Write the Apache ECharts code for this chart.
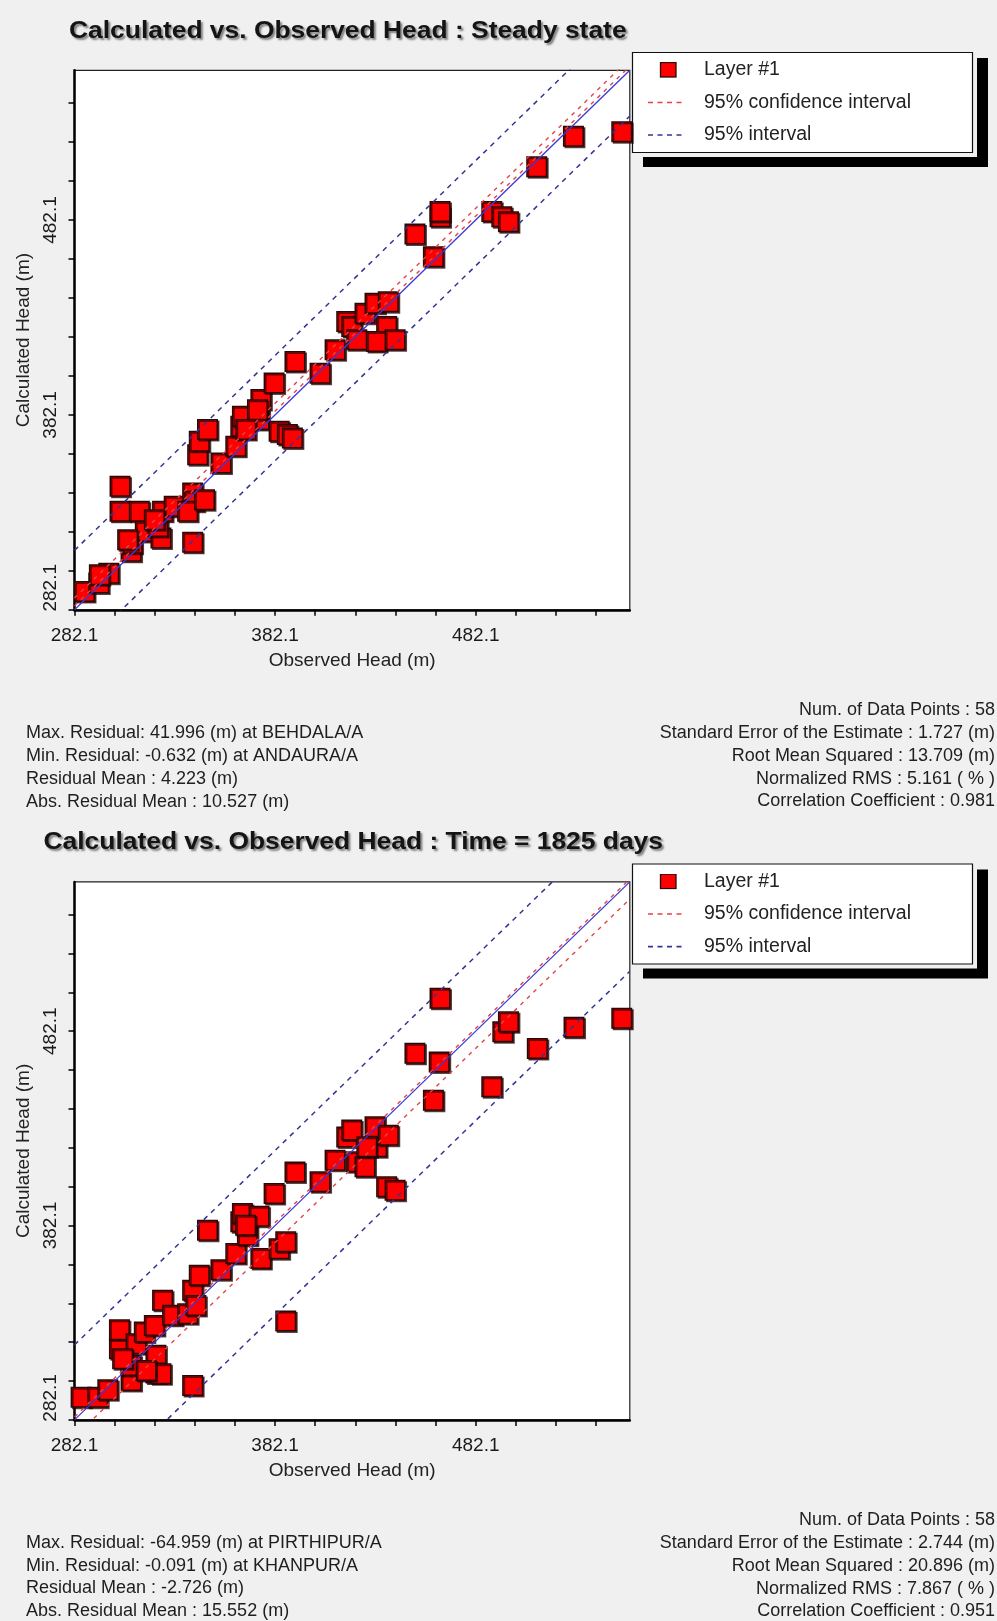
<!DOCTYPE html>
<html>
<head>
<meta charset="utf-8">
<script src="https://cdn.jsdelivr.net/npm/echarts@6/dist/echarts.min.js"></script>
<style>
  html, body { margin: 0; padding: 0; background: #f0f0f0; }
  #chart { width: 997px; height: 1621px; }
</style>
</head>
<body>
<div id="chart"></div>
<script>
// ---------- DATA ----------
const axisMin = 282.1;
const axisMax = 558.9;
const tickValues = [282.1, 302.1, 322.1, 342.1, 362.1, 382.1, 402.1, 422.1, 442.1, 462.1, 482.1, 502.1, 522.1, 542.1];
const tickLabels = [282.1, 382.1, 482.1];

const titles = [
  'Calculated vs. Observed Head : Steady state',
  'Calculated vs. Observed Head : Time = 1825 days'
];

// Steady state: [observed, calculated]
const steadyPoints = [
  [287.1, 291.5], [294.2, 295.8], [299.2, 300.9], [294.5, 300.1], [304.8, 345.5],
  [304.8, 332.6], [314.4, 332.6], [310.3, 312.1], [310.8, 316.3], [317.4, 322.3],
  [325.2, 318.9], [323.6, 324.9], [326.0, 332.6], [331.8, 335.2], [341.0, 342.0],
  [341.8, 337.8], [338.5, 332.6], [341.0, 316.7], [343.5, 361.7], [344.3, 368.6],
  [348.4, 374.6], [355.1, 357.4], [362.5, 366.0], [365.0, 376.3], [365.8, 381.4],
  [374.1, 379.7], [375.0, 390.0], [381.6, 398.5], [384.1, 373.7], [388.2, 372.0],
  [404.5, 403.5], [392.0, 409.5], [412.0, 415.5], [417.8, 430.0], [420.3, 427.4],
  [422.8, 420.6], [426.9, 434.3], [431.9, 439.4], [438.5, 440.2], [437.7, 427.4],
  [432.7, 419.7], [441.9, 420.6], [451.8, 474.9], [461.0, 463.3], [464.3, 483.8],
  [464.3, 486.4], [490.1, 486.4], [495.1, 483.8], [498.4, 481.2], [512.5, 509.4],
  [530.8, 525.1], [554.9, 527.4], [321.9, 328.3], [308.6, 318.1], [346.9, 338.6],
  [373.3, 384.8], [390.7, 370.3], [367.5, 374.6]
];

// Time = 1825 days: [observed, calculated]
const transientPoints = [
  [285.4, 293.8], [293.7, 293.8], [298.7, 297.6], [310.3, 302.4], [310.3, 310.1],
  [304.5, 318.7], [304.5, 328.5], [312.8, 321.3], [316.9, 327.3], [321.9, 330.7],
  [322.7, 315.3], [322.7, 306.2], [325.2, 305.8], [317.8, 307.5], [326.0, 343.6],
  [331.0, 335.9], [338.5, 336.7], [341.0, 348.8], [342.6, 341.0], [344.3, 356.5],
  [355.1, 359.4], [348.4, 379.7], [362.5, 367.7], [365.0, 384.0], [365.8, 388.3],
  [368.3, 377.1], [374.1, 386.9], [375.0, 365.1], [384.1, 370.2], [387.4, 373.7],
  [381.6, 398.6], [387.4, 333.0], [341.0, 299.8], [404.5, 404.6], [392.0, 409.7],
  [412.0, 415.7], [417.8, 427.7], [420.3, 431.2], [422.8, 414.9], [426.9, 412.3],
  [431.9, 432.9], [432.7, 422.6], [438.5, 428.6], [437.7, 402.0], [441.9, 400.3],
  [451.8, 470.7], [461.0, 446.6], [463.9, 466.3], [464.3, 499.0], [490.1, 453.5],
  [495.6, 481.8], [498.4, 486.9], [512.8, 473.2], [531.1, 484.1], [554.9, 488.7],
  [367.4, 382.3], [427.8, 422.6], [306.1, 313.5]
];

// Offsets (calculated - observed) of the reference lines
const lineObserved = [282.1, 558.9];
const steadyConfOffsets = [6.0, 2.0];
const steadyIntervalOffsets = [30.5, -23.5];
const transientConfOffsets = [1.5, -8.8];
const transientIntervalOffsets = [38.6, -46.0];

const legendNames = ['Layer #1', '95% confidence interval', '95% interval'];

const stats1Left = [
  'Max. Residual: 41.996 (m) at BEHDALA/A',
  'Min. Residual: -0.632 (m) at ANDAURA/A',
  'Residual Mean : 4.223 (m)',
  'Abs. Residual Mean : 10.527 (m)'
];
const stats1Right = [
  'Num. of Data Points : 58',
  'Standard Error of the Estimate : 1.727 (m)',
  'Root Mean Squared : 13.709 (m)',
  'Normalized RMS : 5.161 ( % )',
  'Correlation Coefficient : 0.981'
];
const stats2Left = [
  'Max. Residual: -64.959 (m) at PIRTHIPUR/A',
  'Min. Residual: -0.091 (m) at KHANPUR/A',
  'Residual Mean : -2.726 (m)',
  'Abs. Residual Mean : 15.552 (m)'
];
const stats2Right = [
  'Num. of Data Points : 58',
  'Standard Error of the Estimate : 2.744 (m)',
  'Root Mean Squared : 20.896 (m)',
  'Normalized RMS : 7.867 ( % )',
  'Correlation Coefficient : 0.951'
];

// ---------- STYLE / LAYOUT ----------
const FONT = '"Liberation Sans", Arial, sans-serif';
const RED = '#ff0000', RED_EDGE = '#2b0808';
const CONF_COLOR = '#e0454a', INT_COLOR = '#343494', ONE_COLOR = '#3a3ad6';
const panelShift = 811.6;
const gridLeft = 74.5, gridTop = 70.3, gridW = 555.3, gridH = 539.5;

function svgIcon(inner) {
  const svg = "<svg xmlns='http://www.w3.org/2000/svg' width='37' height='16' viewBox='0 0 37 16'>" + inner + "</svg>";
  return 'image://data:image/svg+xml;charset=utf-8,' + encodeURIComponent(svg);
}
const iconSquare = svgIcon("<rect x='12.5' y='0.5' width='15.5' height='14.5' fill='" + RED + "' stroke='" + RED_EDGE + "' stroke-width='1.3'/>");
const iconConf = svgIcon("<line x1='0' y1='8' x2='37' y2='8' stroke='" + CONF_COLOR + "' stroke-width='1.5' stroke-dasharray='5,4.5'/>");
const iconInt = svgIcon("<line x1='0' y1='8' x2='37' y2='8' stroke='" + INT_COLOR + "' stroke-width='1.6' stroke-dasharray='5,4.5'/>");

const chart = echarts.init(document.getElementById('chart'));

function makeAxes(gi) {
  const common = {
    gridIndex: gi,
    type: 'value',
    min: axisMin,
    max: axisMax,
    axisLine: { show: true, onZero: false, lineStyle: { color: '#000', width: 2.5 } },
    axisTick: { show: true, inside: false, length: 6, customValues: tickValues, lineStyle: { color: '#000', width: 1.5 } },
    splitLine: { show: false },
    nameLocation: 'middle',
    nameTextStyle: { fontFamily: FONT, fontSize: 19, color: '#222' }
  };
  const x = Object.assign({}, common, {
    name: 'Observed Head (m)',
    nameGap: 41,
    axisLabel: { customValues: tickLabels, formatter: v => v.toFixed(1), fontFamily: FONT, fontSize: 19, color: '#1a1a1a', margin: 16 }
  });
  const y = Object.assign({}, common, {
    name: 'Calculated Head (m)',
    nameGap: 41,
    axisLabel: {
      customValues: tickLabels,
      formatter: v => (Math.abs(v - axisMin) < 1e-6 ? '{first|' + v.toFixed(1) + '}' : v.toFixed(1)),
      rotate: 90, fontFamily: FONT, fontSize: 19, color: '#1a1a1a', margin: 14,
      rich: { first: { fontFamily: FONT, fontSize: 19, color: '#1a1a1a', padding: [0, 0, 0, 44] } }
    }
  });
  return [x, y];
}

const ax0 = makeAxes(0), ax1 = makeAxes(1);

function lineSeries(gi, name, offset, color, type, width) {
  return {
    type: 'line',
    name: name,
    xAxisIndex: gi, yAxisIndex: gi,
    data: lineObserved.map(x => [x, x + offset]),
    symbol: 'none',
    showSymbol: false,
    clip: true,
    silent: true,
    z: 4,
    lineStyle: { color: color, type: type, width: width },
    itemStyle: { color: color }
  };
}

function panelSeries(gi, points, confOffsets, intOffsets) {
  const s = [{
    type: 'scatter',
    name: 'Layer #1',
    xAxisIndex: gi, yAxisIndex: gi,
    data: points,
    symbol: 'rect',
    symbolSize: 19.5,
    z: 2,
    itemStyle: {
      color: RED, borderColor: RED_EDGE, borderWidth: 1.5, opacity: 1,
      shadowColor: 'rgba(40,0,0,0.7)', shadowOffsetX: 1.5, shadowOffsetY: 1.5, shadowBlur: 0
    }
  }];
  s.push(lineSeries(gi, '1:1', 0, ONE_COLOR, 'solid', 1.3));
  confOffsets.forEach(o => s.push(lineSeries(gi, legendNames[1], o, CONF_COLOR, [4, 5], 1.4)));
  intOffsets.forEach(o => s.push(lineSeries(gi, legendNames[2], o, INT_COLOR, [5, 5], 1.5)));
  return s;
}

function legendFor(top) {
  return {
    orient: 'vertical',
    left: 648,
    top: top,
    padding: 0,
    itemWidth: 37,
    itemHeight: 16,
    itemGap: 12.5,
    z: 10,
    selectedMode: false,
    symbolKeepAspect: true,
    data: [
      { name: legendNames[0], icon: iconSquare },
      { name: legendNames[1], icon: iconConf },
      { name: legendNames[2], icon: iconInt }
    ],
    textStyle: { fontFamily: FONT, fontSize: 19.5, color: '#222', padding: [0, 0, 0, 14] }
  };
}

function legendBox(dy) {
  return [
    { type: 'rect', z: 1, shape: { x: 643, y: 58 + dy, width: 345, height: 109 }, style: { fill: '#000' } },
    { type: 'rect', z: 1, shape: { x: 632, y: 52 + dy, width: 345, height: 105 }, style: { fill: '#f0f0f0' } },
    { type: 'rect', z: 1, shape: { x: 632.5, y: 52.5 + dy, width: 340, height: 100 }, style: { fill: '#fff', stroke: '#111', lineWidth: 1.2 } }
  ];
}

function titleText(txt, x, y) {
  return {
    type: 'text', z: 5, x: x, y: y, scaleX: 1.1,
    style: {
      text: txt, font: 'bold 24px ' + FONT, fill: '#141414',
      align: 'left', verticalAlign: 'middle', textAlign: 'left', textVerticalAlign: 'middle',
      textShadowColor: 'rgba(90,90,90,0.75)', textShadowBlur: 2, textShadowOffsetX: 2, textShadowOffsetY: 2.5
    }
  };
}

function statTexts(lines, x, y0, align) {
  return lines.map((t, i) => ({
    type: 'text', z: 5, x: x, y: y0 + i * 22.75,
    style: {
      text: t, font: '18px ' + FONT, fill: '#1e1e1e',
      align: align, verticalAlign: 'middle', textAlign: align, textVerticalAlign: 'middle'
    }
  }));
}

const graphics = []
  .concat(legendBox(0))
  .concat(legendBox(panelShift - 0.1))
  .concat([titleText(titles[0], 69, 31), titleText(titles[1], 43.5, 842)])
  .concat(statTexts(stats1Left, 26, 733.3, 'left'))
  .concat(statTexts(stats1Right, 995, 710.5, 'right'))
  .concat(statTexts(stats2Left, 26, 1543, 'left'))
  .concat(statTexts(stats2Right, 995, 1520.3, 'right'));

const option = {
  backgroundColor: '#f0f0f0',
  animation: false,
  textStyle: { fontFamily: FONT },
  grid: [
    { left: gridLeft, top: gridTop, width: gridW, height: gridH, show: true, backgroundColor: '#fff', borderColor: '#222', borderWidth: 1.2, containLabel: false },
    { left: gridLeft, top: gridTop + panelShift, width: gridW, height: gridH - 1.5, show: true, backgroundColor: '#fff', borderColor: '#222', borderWidth: 1.2, containLabel: false }
  ],
  xAxis: [ax0[0], ax1[0]],
  yAxis: [ax0[1], ax1[1]],
  legend: [legendFor(60), legendFor(60 + panelShift)],
  series: [].concat(
    panelSeries(0, steadyPoints, steadyConfOffsets, steadyIntervalOffsets),
    panelSeries(1, transientPoints, transientConfOffsets, transientIntervalOffsets)
  ),
  graphic: { elements: graphics }
};

chart.setOption(option);
</script>
</body>
</html>
